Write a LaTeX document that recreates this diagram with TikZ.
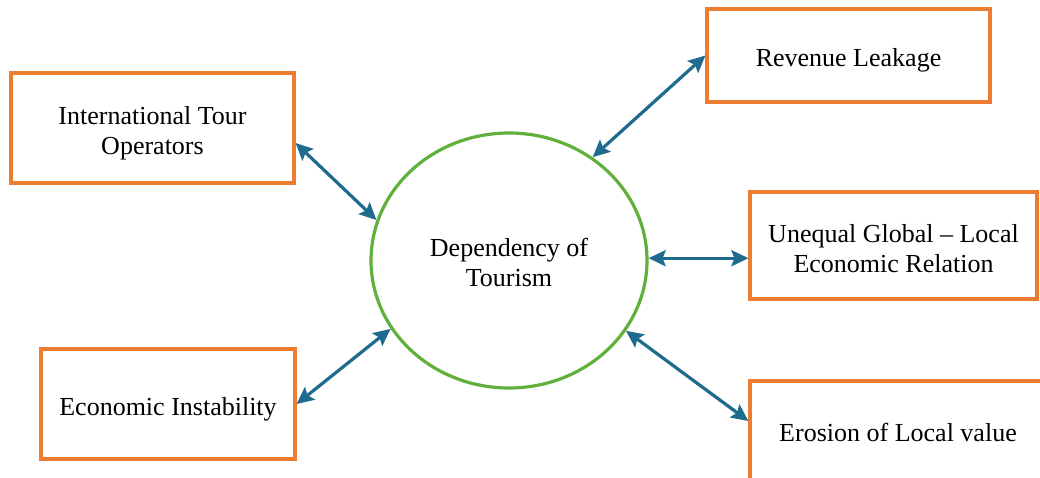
\documentclass[tikz,border=0pt]{standalone}
\usepackage{fontspec}
\setmainfont{Liberation Serif}
\usetikzlibrary{arrows.meta,shapes.geometric}
\definecolor{boxorange}{HTML}{ED7D31}
\definecolor{ringgreen}{HTML}{62B03C}
\definecolor{linkblue}{HTML}{1F6B8E}
\newcommand\lowtext[2]{\raisebox{-#1}[\height][\depth]{\begin{tabular}{@{}c@{}}#2\end{tabular}}}
\begin{document}
\begin{tikzpicture}[x=1pt,y=-1pt,
  every node/.style={font=\fontsize{26}{30}\selectfont, align=center, inner sep=0pt},
  boxnode/.style={draw=boxorange, line width=3.2pt, rectangle},
  hubnode/.style={draw=ringgreen, line width=3.2pt, ellipse},
  link/.style={draw=linkblue, line width=3.2pt,
    {Stealth[length=17pt,width=16pt,inset=3pt]}-{Stealth[length=17pt,width=16pt,inset=3pt]}}
]
\useasboundingbox (0,0) rectangle (1040,477);
\fill[white] (0,0) rectangle (1040,477);
\node[hubnode, minimum width=276pt, minimum height=255pt] (hub) at (509,260.5) {\lowtext{4.5pt}{Dependency of\\Tourism}};
\node[boxnode, minimum width=283pt, minimum height=110pt] (ito) at (152.5,128) {\lowtext{5pt}{International Tour\\Operators}};
\node[boxnode, minimum width=254pt, minimum height=110pt] (eco) at (168,404) {\lowtext{5.5pt}{Economic Instability}};
\node[boxnode, minimum width=283pt, minimum height=93pt] (rev) at (848.5,55.5) {\lowtext{5pt}{Revenue Leakage}};
\node[boxnode, minimum width=287pt, minimum height=107pt] (une) at (893.5,245.5) {\lowtext{5.5pt}{Unequal Global -- Local\\Economic Relation}};
\node[boxnode, minimum width=296pt, minimum height=101pt] (ero) at (898,431.5) {\lowtext{3.5pt}{Erosion of Local value}};
\draw[link] (ito.-6.85) -- (hub.163.8);
\draw[link] (eco.east) -- (hub.210.7);
\draw[link] (rev.west) -- (hub.51.1);
\draw[link] (hub.east |- une.185.4) -- (une.185.4);
\draw[link] (hub.-31.1) -- (ero.176.3);
\end{tikzpicture}
\end{document}
